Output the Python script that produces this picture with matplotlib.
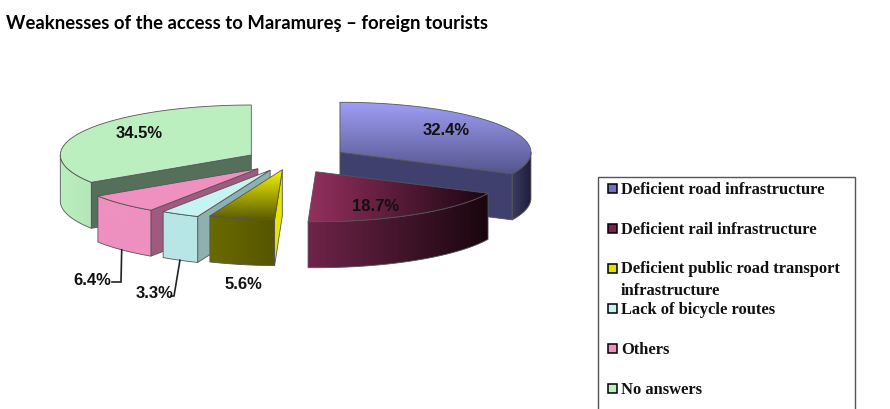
import numpy as np
import matplotlib
matplotlib.use('Agg')
import matplotlib.pyplot as plt
from matplotlib.colors import LinearSegmentedColormap
from matplotlib.patches import Polygon, Rectangle

title = 'Weaknesses of the access to Maramureş – foreign tourists'
categories = ['Deficient road infrastructure', 'Deficient rail infrastructure',
              'Deficient public road transport\ninfrastructure', 'Lack of bicycle routes',
              'Others', 'No answers']
values = [32.4, 18.7, 5.6, 3.3, 6.4, 34.5]

# pie geometry, in pixels of the picture
CX, CY = 290, 161.5
RX, RY = 191, 50
DEPTH = 46
explode = [59, 50, 36, 42, 45, 44]
draw_order = [5, 0, 4, 3, 2, 1]

# (start colour, end colour, 'v' or 'h')
top_faces = [('#9e9ef6', '#55558c', 'v'), ('#94305f', '#1b0610', 'h'), ('#f6f600', '#5a5a00', 'v'),
             ('#c6f3f3', '#c6f3f3', 'h'), ('#f090c0', '#f090c0', 'h'), ('#bcefc0', '#bcefc0', 'h')]
arc_faces = [('#3c3c64', '#1e1e38', 'h'), ('#6e2449', '#19060e', 'h'), ('#6a6a00', '#565600', 'h'),
             ('#b8e6e6', '#b8e6e6', 'h'), ('#ee90c0', '#ee90c0', 'h'), ('#bcefc0', '#b4e6b8', 'h')]
cut_faces = ['#40406e', '#40406e', '#e6e600', '#8fb0b0', '#a05a80', '#55705a']
swatches = ['#7272c4', '#7f2050', '#e2e200', '#c6f3f3', '#f090c0', '#bcefc0']

legend_y = [190, 230, 280, 310, 350, 390]
value_labels = [(446, 131), (376, 207), (243, 285), (155, 294), (92, 281), (139, 134)]


def rim(x0, y0, t0, t1):
    ts = np.radians(np.linspace(t0, t1, 90))
    return np.column_stack([x0 + RX * np.sin(ts), y0 - RY * np.cos(ts)])


def fill_face(ax, verts, style, z):
    c0, c1, way = style
    cmap = LinearSegmentedColormap.from_list('face', [c0, c1])
    ramp = np.linspace(0, 1, 256)
    ramp = ramp[:, None] if way == 'v' else ramp[None, :]
    x0, y0 = verts.min(axis=0)
    x1, y1 = verts.max(axis=0)
    im = ax.imshow(ramp, cmap=cmap, extent=(x0, x1, y1, y0), aspect='auto', zorder=z,
                   interpolation='bilinear')
    outline = Polygon(verts, closed=True, fill=False, ec='#555555', lw=0.6, zorder=z + 0.1)
    ax.add_patch(outline)
    im.set_clip_path(outline)


fig = plt.figure(figsize=(8.9, 4.1), dpi=100)
ax = fig.add_axes([0, 0, 1, 1])

edges = np.cumsum([0] + values) / sum(values) * 360
apexes = []
for i in range(len(values)):
    mid = np.radians((edges[i] + edges[i + 1]) / 2)
    apexes.append((CX + explode[i] * np.sin(mid), CY - explode[i] * np.cos(mid) * RY / RX))

z = 2
for i in draw_order:
    t0, t1 = edges[i], edges[i + 1]
    ax0, ay0 = apexes[i]
    down = np.array([0, DEPTH])
    # cut side facing the viewer
    for t, visible in ((t0, np.sin(np.radians(t0)) < 0), (t1, np.sin(np.radians(t1)) > 0)):
        if visible:
            p = rim(ax0, ay0, t, t)[0]
            a = np.array([ax0, ay0])
            side = np.array([a, p, p + down, a + down])
            fill_face(ax, side, (cut_faces[i], cut_faces[i], 'h'), z)
            z += 1
    # outer wall, only the front half of the ellipse shows
    a0, a1 = max(t0, 90), min(t1, 270)
    if a1 > a0:
        arc = rim(ax0, ay0, a0, a1)
        fill_face(ax, np.vstack([arc, arc[::-1] + down]), arc_faces[i], z)
        z += 1
    top = np.vstack([[ax0, ay0], rim(ax0, ay0, t0, t1)])
    fill_face(ax, top, top_faces[i], z)
    z += 1

# leader lines of the two small slices
for i, elbow, end in ((4, (121, 283), (112, 283)), (3, (174, 297), (171, 297))):
    m = (edges[i] + edges[i + 1]) / 2
    start = rim(apexes[i][0], apexes[i][1] + DEPTH, m, m)[0]
    ax.plot([start[0], elbow[0], end[0]], [start[1], elbow[1], end[1]], color='#222222', lw=1.2,
            zorder=z, solid_joinstyle='miter')

for v, (x, y) in zip(values, value_labels):
    ax.text(x, y, f'{v:.1f}%', ha='center', va='center', family='Liberation Sans',
            weight='bold', fontsize=12, color='#111111', zorder=z + 1)

ax.text(6, 23, title, ha='left', va='center', family='Lato', weight='bold', fontsize=13.3,
        color='black')

# legend box runs off the bottom of the picture
ax.add_patch(Rectangle((598, 178), 257, 260, fill=False, ec='#555555', lw=1.0, zorder=z))
for name, col, y in zip(categories, swatches, legend_y):
    first_y = y - 10 if '\n' in name else y
    ax.add_patch(Rectangle((608, first_y - 5.5), 9, 9, fc=col, ec='black', lw=1.1, zorder=z))
    ax.text(621, y, name, ha='left', va='center', family='Liberation Serif', weight='bold',
            fontsize=11.9, color='#111111', linespacing=1.5, zorder=z)

ax.set_xlim(0, 890)
ax.set_ylim(410, 0)
ax.axis('off')
fig.savefig('out.png', dpi=100, facecolor='white')
